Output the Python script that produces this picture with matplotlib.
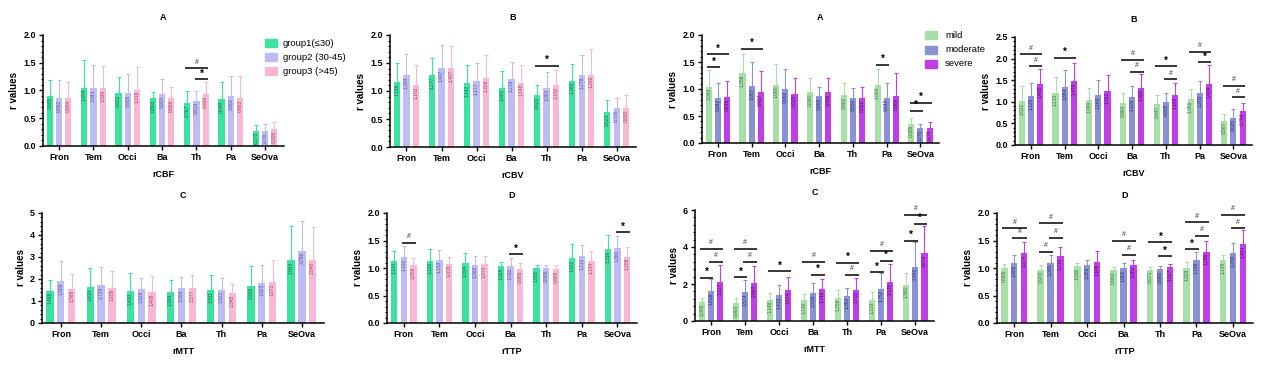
import matplotlib
matplotlib.use('Agg')
import matplotlib.pyplot as plt
from matplotlib.ticker import MultipleLocator, AutoMinorLocator

plt.rcParams['font.family'] = ['Liberation Sans', 'DejaVu Sans']

regions = ['Fron', 'Tem', 'Occi', 'Ba', 'Th', 'Pa', 'SeOva']
age_groups = ['group1(≤30)', 'group2 (30-45)', 'group3 (>45)']
sev_groups = ['mild', 'moderate', 'severe']

age_colors = ['#3ce39f', '#bdbdf4', '#f8b7d3']
age_text = ['#17704c', '#5656a8', '#a8456f']
sev_colors = ['#a8dfa8', '#8b92d3', '#bf3ee6']
sev_text = ['#3c7a3c', '#2c3380', '#5c0a78']

# age groups, means and SD (upper error bar)
age_cbf_mean = [[0.905, 1.054, 0.952, 0.863, 0.767, 0.848, 0.273],
                [0.862, 1.041, 0.956, 0.934, 0.813, 0.902, 0.270],
                [0.864, 1.039, 1.016, 0.866, 0.930, 0.863, 0.305]]
age_cbf_sd = [[0.29, 0.50, 0.29, 0.11, 0.22, 0.30, 0.11],
              [0.32, 0.42, 0.34, 0.27, 0.18, 0.36, 0.12],
              [0.29, 0.40, 0.40, 0.20, 0.22, 0.40, 0.12]]

age_cbv_mean = [[1.156, 1.277, 1.142, 1.061, 0.920, 1.183, 0.620],
                [1.284, 1.407, 1.177, 1.219, 1.062, 1.278, 0.700],
                [1.102, 1.407, 1.226, 1.148, 1.102, 1.290, 0.692]]
age_cbv_sd = [[0.34, 0.32, 0.33, 0.30, 0.18, 0.30, 0.22],
              [0.37, 0.41, 0.32, 0.29, 0.27, 0.36, 0.18],
              [0.37, 0.40, 0.41, 0.31, 0.28, 0.46, 0.24]]

age_mtt_mean = [[1.466, 1.619, 1.433, 1.394, 1.511, 1.696, 2.849],
                [1.903, 1.729, 1.529, 1.593, 1.521, 1.823, 3.286],
                [1.568, 1.605, 1.408, 1.577, 1.345, 1.872, 2.848]]
age_mtt_sd = [[0.48, 0.90, 0.85, 0.54, 0.67, 0.88, 1.55],
              [0.92, 0.82, 0.53, 0.51, 0.53, 0.81, 1.33],
              [0.65, 0.76, 0.71, 0.60, 0.44, 0.98, 1.50]]

age_ttp_mean = [[1.134, 1.133, 1.094, 1.028, 1.002, 1.182, 1.338],
                [1.192, 1.153, 1.060, 1.033, 0.998, 1.212, 1.360],
                [1.056, 1.078, 1.074, 0.985, 0.985, 1.134, 1.208]]
age_ttp_sd = [[0.18, 0.22, 0.17, 0.08, 0.06, 0.25, 0.26],
              [0.21, 0.17, 0.16, 0.15, 0.06, 0.20, 0.23],
              [0.12, 0.13, 0.14, 0.10, 0.07, 0.17, 0.17]]

# severity groups
sev_cbf_mean = [[1.043, 1.288, 1.080, 0.940, 0.882, 1.069, 0.355],
                [0.842, 1.057, 0.992, 0.866, 0.836, 0.842, 0.270],
                [0.848, 0.937, 0.915, 0.936, 0.828, 0.866, 0.270]]
sev_cbf_sd = [[0.30, 0.36, 0.39, 0.26, 0.22, 0.30, 0.10],
              [0.27, 0.44, 0.38, 0.17, 0.18, 0.27, 0.09],
              [0.30, 0.39, 0.28, 0.26, 0.20, 0.43, 0.12]]

sev_cbv_mean = [[1.012, 1.215, 1.049, 0.964, 0.947, 1.056, 0.567],
                [1.126, 1.354, 1.160, 1.103, 0.995, 1.203, 0.635],
                [1.402, 1.478, 1.261, 1.328, 1.148, 1.409, 0.784]]
sev_cbv_sd = [[0.36, 0.36, 0.26, 0.24, 0.21, 0.25, 0.14],
              [0.30, 0.38, 0.34, 0.26, 0.22, 0.28, 0.19],
              [0.36, 0.41, 0.37, 0.31, 0.29, 0.44, 0.19]]

sev_mtt_mean = [[1.003, 0.960, 1.149, 1.130, 1.256, 1.119, 1.960],
                [1.616, 1.574, 1.412, 1.518, 1.363, 1.752, 2.940],
                [2.127, 2.060, 1.674, 1.740, 1.702, 2.135, 3.670]]
sev_mtt_sd = [[0.25, 0.26, 0.35, 0.32, 0.44, 0.43, 0.64],
              [0.68, 0.63, 0.56, 0.53, 0.42, 0.85, 1.31],
              [0.92, 0.89, 0.73, 0.51, 0.62, 0.92, 1.48]]

sev_ttp_mean = [[0.996, 0.970, 1.036, 0.960, 0.971, 1.003, 1.145],
                [1.085, 1.099, 1.053, 1.002, 0.980, 1.148, 1.268],
                [1.274, 1.218, 1.106, 1.061, 1.017, 1.296, 1.434]]
sev_ttp_sd = [[0.08, 0.08, 0.05, 0.06, 0.05, 0.10, 0.09],
              [0.15, 0.13, 0.10, 0.09, 0.05, 0.15, 0.18],
              [0.20, 0.16, 0.20, 0.09, 0.06, 0.20, 0.25]]

# significance: (region, group a, group b, height, mark)
age_cbf_sig = [(4, 0, 2, 1.40, '#'), (4, 1, 2, 1.20, '*')]
age_cbv_sig = [(4, 0, 2, 1.45, '*')]
age_mtt_sig = []
age_ttp_sig = [(0, 1, 2, 1.45, '#'), (3, 1, 2, 1.25, '*'), (6, 1, 2, 1.65, '*')]
sev_cbf_sig = [(0, 0, 1, 1.40, '*'), (0, 0, 2, 1.64, '*'), (1, 0, 2, 1.75, '*'),
               (5, 0, 1, 1.45, '*'), (6, 0, 1, 0.60, '*'), (6, 0, 2, 0.75, '*')]
sev_cbv_sig = [(0, 0, 2, 2.10, '#'), (0, 1, 2, 1.82, '#'), (1, 0, 2, 2.02, '*'),
               (3, 0, 2, 1.97, '#'), (3, 1, 2, 1.70, '#'), (4, 0, 2, 1.83, '*'),
               (4, 1, 2, 1.52, '#'), (5, 0, 2, 2.15, '#'), (5, 1, 2, 1.91, '*'),
               (6, 0, 2, 1.37, '#'), (6, 1, 2, 1.10, '#')]
sev_mtt_sig = [(0, 0, 1, 2.35, '*'), (0, 0, 2, 3.90, '#'), (0, 1, 2, 3.20, '#'),
               (1, 0, 1, 2.38, '*'), (1, 0, 2, 3.90, '#'), (1, 1, 2, 3.20, '#'),
               (2, 0, 2, 2.70, '*'), (3, 0, 2, 3.20, '#'), (3, 1, 2, 2.50, '*'),
               (4, 0, 2, 3.15, '*'), (4, 1, 2, 2.50, '#'), (5, 0, 1, 2.65, '*'),
               (5, 0, 2, 3.80, '#'), (5, 1, 2, 3.25, '*'), (6, 0, 1, 4.35, '*'),
               (6, 0, 2, 5.75, '#'), (6, 1, 2, 5.25, '*')]
sev_ttp_sig = [(0, 0, 2, 1.72, '#'), (0, 1, 2, 1.55, '#'), (1, 0, 1, 1.30, '#'),
               (1, 0, 2, 1.81, '#'), (1, 1, 2, 1.55, '#'), (3, 0, 2, 1.49, '#'),
               (3, 1, 2, 1.24, '#'), (4, 0, 2, 1.47, '*'), (4, 1, 2, 1.22, '*'),
               (5, 0, 1, 1.34, '*'), (5, 0, 2, 1.83, '#'), (5, 1, 2, 1.59, '#'),
               (6, 0, 2, 1.96, '#'), (6, 1, 2, 1.72, '#')]

W, H = 1280, 369
fig = plt.figure(figsize=(W / 100, H / 100), dpi=100)

OFFS = [-0.27, 0.0, 0.27]
BW = 0.18


def draw(px, ylim, major, title, xlabel, means, sds, colors, tcolors, sig):
    x0, x1, yt, yb = px
    ax = fig.add_axes([x0 / W, 1 - yb / H, (x1 - x0) / W, (yb - yt) / H])
    xs = range(len(regions))
    for g in range(3):
        pos = [i + OFFS[g] for i in xs]
        ax.bar(pos, means[g], width=BW, color=colors[g], zorder=2)
        ax.errorbar(pos, means[g], yerr=[[0] * len(pos), sds[g]], fmt='none',
                    ecolor=colors[g], elinewidth=0.8, capsize=1.6, capthick=0.8, zorder=1)
        for p, m in zip(pos, means[g]):
            ax.text(p, m - ylim * 0.012, f'{m:.3f}', rotation=90, ha='center', va='top',
                    fontsize=3.5, color=tcolors[g], zorder=3)
    for r, a, b, h, mark in sig:
        xa = r + OFFS[a] - 0.05
        xb = r + OFFS[b] + 0.07
        ax.plot([xa, xb], [h, h], color='black', lw=1.1, solid_capstyle='butt', zorder=4)
        if mark == '*':
            ax.text((xa + xb) / 2, h + ylim * 0.005, '*', ha='center', va='bottom',
                    fontsize=7, fontweight='bold', color='black')
        else:
            ax.text((xa + xb) / 2, h + ylim * 0.025, '#', ha='center', va='bottom',
                    fontsize=5, color='#333333')
    ax.set_xlim(-0.47, 6.55)
    ax.set_ylim(0, ylim)
    ax.yaxis.set_major_locator(MultipleLocator(major))
    ax.yaxis.set_minor_locator(AutoMinorLocator(5))
    ax.yaxis.set_major_formatter(plt.FuncFormatter(
        lambda v, p: f'{v:.1f}' if major < 1 else f'{v:.0f}'))
    ax.set_xticks(list(xs))
    ax.set_xticklabels(regions, fontsize=6.5, fontweight='bold')
    for lab in ax.get_yticklabels():
        lab.set_fontsize(6.5)
        lab.set_fontweight('bold')
    ax.tick_params(axis='both', which='major', length=3, width=1, pad=2)
    ax.tick_params(axis='y', which='minor', length=1.6, width=0.8)
    ax.spines['top'].set_visible(False)
    ax.spines['right'].set_visible(False)
    ax.spines['left'].set_linewidth(1.1)
    ax.spines['bottom'].set_linewidth(1.1)
    ax.set_ylabel('r values', fontsize=7, fontweight='bold', labelpad=3)
    ax.set_xlabel(xlabel, fontsize=6.5, fontweight='bold', labelpad=6)
    ax.set_title(title, fontsize=6.5, fontweight='bold', pad=11)
    return ax


draw((43, 284, 35, 146), 2.0, 0.5, 'A', 'rCBF', age_cbf_mean, age_cbf_sd,
     age_colors, age_text, age_cbf_sig)
draw((390, 636, 35, 147), 2.0, 0.5, 'B', 'rCBV', age_cbv_mean, age_cbv_sd,
     age_colors, age_text, age_cbv_sig)
draw((42, 324, 213, 323), 5, 1, 'C', 'rMTT', age_mtt_mean, age_mtt_sd,
     age_colors, age_text, age_mtt_sig)
draw((387, 637, 213, 323), 2.0, 0.5, 'D', 'rTTP', age_ttp_mean, age_ttp_sd,
     age_colors, age_text, age_ttp_sig)
draw((702, 939, 35, 143), 2.0, 0.5, 'A', 'rCBF', sev_cbf_mean, sev_cbf_sd,
     sev_colors, sev_text, sev_cbf_sig)
draw((1015, 1252, 37, 145), 2.5, 0.5, 'B', 'rCBV', sev_cbv_mean, sev_cbv_sd,
     sev_colors, sev_text, sev_cbv_sig)
draw((695, 934, 210, 321), 6, 2, 'C', 'rMTT', sev_mtt_mean, sev_mtt_sd,
     sev_colors, sev_text, sev_mtt_sig)
draw((997, 1253, 213, 323), 2.0, 0.5, 'D', 'rTTP', sev_ttp_mean, sev_ttp_sd,
     sev_colors, sev_text, sev_ttp_sig)

# legends
for i, (lab, c) in enumerate(zip(age_groups, age_colors)):
    y = 43 + i * 14
    fig.patches.append(plt.Rectangle((265 / W, 1 - (y + 4) / H), 12 / W, 8 / H,
                                     transform=fig.transFigure, color=c))
    fig.text(283 / W, 1 - y / H, lab, fontsize=6.8, va='center', ha='left')
for i, (lab, c) in enumerate(zip(sev_groups, sev_colors)):
    y = 35 + i * 14.5
    fig.patches.append(plt.Rectangle((925 / W, 1 - (y + 4) / H), 12 / W, 8 / H,
                                     transform=fig.transFigure, color=c))
    fig.text(945 / W, 1 - y / H, lab, fontsize=6.8, va='center', ha='left')

fig.savefig('out.png', dpi=100)
